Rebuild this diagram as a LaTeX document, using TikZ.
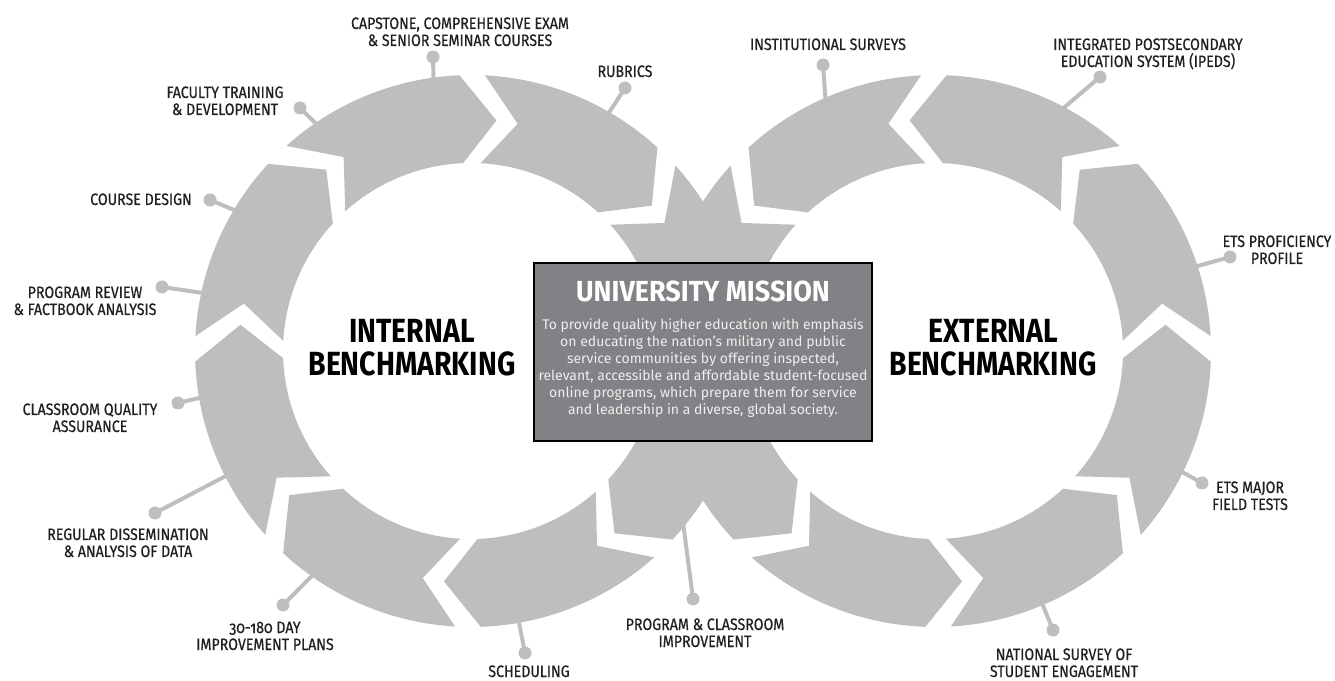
\documentclass[tikz,border=0pt]{standalone}
\usepackage{fontspec}
\usetikzlibrary{calc}
\setmainfont{Fira Sans}
\newfontfamily\lblfont[FakeStretch=0.86,FakeBold=0.6]{Fira Sans}
\newfontfamily\headfont[FakeStretch=0.85]{Fira Sans}
\newfontfamily\titlefont[FakeStretch=0.93]{Fira Sans}
\newfontfamily\bodyfont{Fira Sans}
\definecolor{band}{HTML}{BCBEC0}
\definecolor{boxgray}{HTML}{808285}
\definecolor{ink}{HTML}{231F20}
\definecolor{bodytext}{HTML}{EEEEEE}

% ring geometry: outer, inner and middle radius, chevron depth (deg)
\def\Ro{276}
\def\Ri{188}
\def\Rm{232}
\def\dd{8.7}
% left ring runs clockwise: #1 = tip angle, #2 = notch angle (#2 > #1)
\newcommand\lseg[2]{%
  (#1+\dd:\Ro) arc[start angle=#1+\dd, end angle=#2+\dd, radius=\Ro pt]
  -- (#2:\Rm) -- (#2+\dd:\Ri)
  arc[start angle=#2+\dd, end angle=#1+\dd, radius=\Ri pt]
  -- (#1:\Rm) -- cycle}
% right ring runs counter-clockwise: #1 = notch angle, #2 = tip angle (#2 > #1)
\newcommand\rseg[2]{%
  (#1-\dd:\Ro) arc[start angle=#1-\dd, end angle=#2-\dd, radius=\Ro pt]
  -- (#2:\Rm) -- (#2-\dd:\Ri)
  arc[start angle=#2-\dd, end angle=#1-\dd, radius=\Ri pt]
  -- (#1:\Rm) -- cycle}

\begin{document}
\begin{tikzpicture}[x=1pt,y=1pt,
  lbl/.style={font=\lblfont\fontsize{16.5}{17}\selectfont, text=ink,
    align=center, inner sep=0pt, anchor=base},
  head/.style={font=\headfont\bfseries\fontsize{33.5}{33}\selectfont, text=black,
    align=center, inner sep=0pt, anchor=base},
  dot/.style={circle, fill=band, minimum size=13pt, inner sep=0pt},
  stem/.style={draw=band, line width=4pt},
  missionbox/.style={draw=black, line width=2.5pt, fill=boxgray,
    minimum width=338pt, minimum height=178pt, inner sep=0pt}]
\useasboundingbox (0,0) rectangle (1335,680);
\coordinate (CL) at (471,329);
\coordinate (CR) at (935,329);

% ---- left loop ----
\begin{scope}[shift={(CL)}]
  \fill[band] \lseg{38.8}{78.4};
  \fill[band] \lseg{83.7}{123.3};
  \fill[band] \lseg{128.6}{168.2};
  \fill[band] \lseg{173.5}{213.1};
  \fill[band] \lseg{218.4}{258.0};
  \fill[band] \lseg{263.3}{302.9};
  % crossing strands on the left circle
  \fill[band] (0:\Ro) arc[start angle=0, end angle=42.2, radius=\Ro pt]
    -- (33.5:\Rm) -- (42.2:\Ri) arc[start angle=42.2, end angle=0, radius=\Ri pt] -- cycle;
  \fill[band] (316.9:\Ro) arc[start angle=316.9, end angle=360, radius=\Ro pt]
    -- (360:\Ri) arc[start angle=360, end angle=316.9, radius=\Ri pt] -- (308.2:\Rm) -- cycle;
\end{scope}

% ---- right loop ----
\begin{scope}[shift={(CR)}]
  \fill[band] \rseg{101.6}{141.2};
  \fill[band] \rseg{56.7}{96.3};
  \fill[band] \rseg{11.8}{51.4};
  \fill[band] \rseg{-33.1}{6.5};
  \fill[band] \rseg{-78.0}{-38.4};
  \fill[band] \rseg{-122.9}{-83.3};
  % crossing strands on the right circle
  \fill[band] (180:\Ro) arc[start angle=180, end angle=223.1, radius=\Ro pt]
    -- (231.8:\Rm) -- (223.1:\Ri) arc[start angle=223.1, end angle=180, radius=\Ri pt] -- cycle;
  \fill[band] (137.8:\Ro) arc[start angle=137.8, end angle=180, radius=\Ro pt]
    -- (180:\Ri) arc[start angle=180, end angle=137.8, radius=\Ri pt] -- (146.5:\Rm) -- cycle;
\end{scope}

% ---- stems and dots ----
\coordinate (aCap)   at ($(CL)+(98:268)$);
\coordinate (aFac)   at ($(CL)+(124:268)$);
\coordinate (aRub)   at ($(CL)+(60:268)$);
\coordinate (aCrs)   at ($(CL)+(149:268)$);
\coordinate (aPrg)   at ($(CL)+(167.7:268)$);
\coordinate (aCls)   at ($(CL)+(189.7:268)$);
\coordinate (aReg)   at ($(CL)+(207:268)$);
\coordinate (aDay)   at ($(CL)+(235:268)$);
\coordinate (aSch)   at ($(CL)+(280:268)$);
\coordinate (aPci)   at ($(CL)+(322:268)$);
\coordinate (aIns)   at ($(CR)+(114:268)$);
\coordinate (aIpd)   at ($(CR)+(62.7:268)$);
\coordinate (aEtp)   at ($(CR)+(18:268)$);
\coordinate (aEtm)   at ($(CR)+(334:268)$);
\coordinate (aNss)   at ($(CR)+(293:268)$);

\node[dot] (dCap) at (433,623) {};
\node[dot] (dFac) at (300,572) {};
\node[dot] (dRub) at (625,592) {};
\node[dot] (dCrs) at (210,480) {};
\node[dot] (dPrg) at (162,393) {};
\node[dot] (dCls) at (178,277) {};
\node[dot] (dReg) at (155,167) {};
\node[dot] (dDay) at (283,75) {};
\node[dot] (dSch) at (525,27) {};
\node[dot] (dPci) at (693,81) {};
\node[dot] (dIns) at (823,615) {};
\node[dot] (dIpd) at (1100,603) {};
\node[dot] (dEtp) at (1230,423) {};
\node[dot] (dEtm) at (1202,197) {};
\node[dot] (dNss) at (1053,50) {};

\foreach \n in {Cap,Fac,Rub,Crs,Prg,Cls,Reg,Day,Sch,Pci,Ins,Ipd,Etp,Etm,Nss}
  \draw[stem] (a\n) -- (d\n.center);

% ---- labels (anchor base = baseline of the last line) ----
\node[lbl] (tCap) at (460,634) {CAPSTONE, COMPREHENSIVE EXAM\\\& SENIOR SEMINAR COURSES};
\node[lbl] (tFac) at (225,565) {FACULTY TRAINING\\\& DEVELOPMENT};
\node[lbl] (tRub) at (625,603) {RUBRICS};
\node[lbl] (tCrs) at (141,475) {COURSE DESIGN};
\node[lbl] (tPrg) at (85,365) {PROGRAM REVIEW\\\& FACTBOOK ANALYSIS};
\node[lbl] (tCls) at (90,248) {CLASSROOM QUALITY\\ASSURANCE};
\node[lbl] (tReg) at (128,123) {REGULAR DISSEMINATION\\\& ANALYSIS OF DATA};
\node[lbl] (tDay) at (265,30) {{\addfontfeature{Numbers=OldStyle}30-180} DAY\\IMPROVEMENT PLANS};
\node[lbl] (tSch) at (529,3) {SCHEDULING};
\node[lbl] (tPci) at (705,33) {PROGRAM \& CLASSROOM\\IMPROVEMENT};
\node[lbl] (tIns) at (828,630) {INSTITUTIONAL SURVEYS};
\node[lbl] (tIpd) at (1148,613) {INTEGRATED POSTSECONDARY\\EDUCATION SYSTEM (IPEDS)};
\node[lbl] (tEtp) at (1277,416) {ETS PROFICIENCY\\PROFILE};
\node[lbl] (tEtm) at (1250,170) {ETS MAJOR\\FIELD TESTS};
\node[lbl] (tNss) at (1064,3) {NATIONAL SURVEY OF\\STUDENT ENGAGEMENT};

\node[head] (hInt) at (412,304) {INTERNAL\\BENCHMARKING};
\node[head] (hExt) at (993,304) {EXTERNAL\\BENCHMARKING};

% ---- mission box ----
\node[missionbox] (mission) at (703,328) {};
\node[font=\titlefont\bfseries\fontsize{29}{29}\selectfont, text=white, inner sep=0pt, anchor=base]
  (mTitle) at (703,378) {UNIVERSITY MISSION};
\node[font=\bodyfont\fontsize{14}{17}\selectfont, text=bodytext, align=center, inner sep=0pt, anchor=base]
  (mText) at (703,265) {To provide quality higher education with emphasis\\
  on educating the nation’s military and public\\
  service communities by offering inspected,\\
  relevant, accessible and affordable student-focused\\
  online programs, which prepare them for service\\
  and leadership in a diverse, global society.};
\end{tikzpicture}
\end{document}
